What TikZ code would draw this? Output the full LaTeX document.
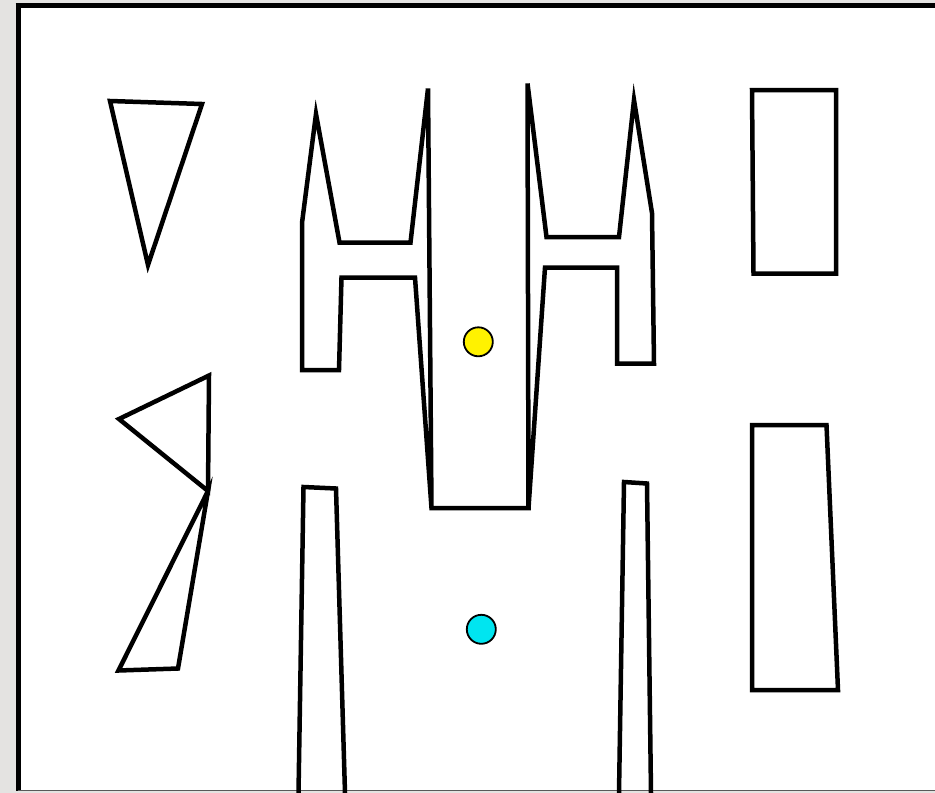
\documentclass[tikz,border=0pt]{standalone}
\definecolor{bggrey}{HTML}{E4E3E1}
\definecolor{wallcol}{HTML}{000000}
\definecolor{ballyellow}{HTML}{FFF200}
\definecolor{ballcyan}{HTML}{00E5F0}
\tikzset{
  wall/.style={draw=wallcol, line width=4.5pt, line join=miter, miter limit=10},
  ball/.style={draw=black, line width=1.8pt},
  frameline/.style={draw=black, line width=5pt}
}
\begin{document}
\begin{tikzpicture}[x=1pt,y=-1pt]
\useasboundingbox (0,0) rectangle (935,793);
% background and frame
\fill[bggrey] (0,0) rectangle (935,793);
\fill[white] (18,5) rectangle (935,791);
\draw[frameline] (18,3) -- (18,791);
\draw[frameline] (15.5,5.5) -- (935,5.5);
\draw[gray!70!black, line width=1.5pt] (18,790.5) -- (935,790.5);

% top-left triangle
\draw[wall] (110,101) -- (202,104) -- (148,265) -- cycle;
% left middle triangle
\draw[wall] (119,419) -- (209,375.5) -- (208,491) -- cycle;
% lower left triangle
\draw[wall] (208,491) -- (118.5,670.5) -- (178,668.5) -- cycle;

% right rectangles
\draw[wall] (752,90) -- (836,90) -- (836,273.5) -- (753.5,273.5) -- cycle;
\draw[wall] (752,425) -- (826.5,425) -- (838,690) -- (752,690) -- cycle;

% central double-H structure
\coordinate (A) at (302,370);
\coordinate (B) at (302,223);
\coordinate (C) at (316,114);
\coordinate (D) at (339.5,242.5);
\coordinate (E) at (410.5,242.5);
\coordinate (F) at (428,88.5);
\coordinate (G) at (431.5,508);
\coordinate (H) at (528.5,508);
\coordinate (I) at (527.5,83.5);
\coordinate (J) at (546.5,237);
\coordinate (K) at (619,237);
\coordinate (L) at (634,100);
\coordinate (M) at (652,213);
\coordinate (N) at (654,363.5);
\coordinate (O) at (617,363.5);
\coordinate (P) at (617,267.5);
\coordinate (Q) at (545,267.5);
\coordinate (R) at (415,277.5);
\coordinate (S) at (341.5,277.5);
\coordinate (T) at (339,370);
\draw[wall] (S) -- (T) -- (A) -- (B) -- (C) -- (D) -- (E) -- (F) -- (G) -- (H)
  -- (I) -- (J) -- (K) -- (L) -- (M) -- (N) -- (O) -- (P) -- (Q) -- (H)
  -- (G) -- (R) -- cycle;

% lower pillars
\draw[wall] (298.5,793) -- (303.5,487) -- (336,488.5) -- (345,793);
\draw[wall] (619,793) -- (624,482) -- (647,483.5) -- (651,793);

% balls
\draw[ball, fill=ballyellow] (478.3,341.8) circle (14.5);
\draw[ball, fill=ballcyan] (481.3,629.3) circle (14.5);
\end{tikzpicture}
\end{document}
